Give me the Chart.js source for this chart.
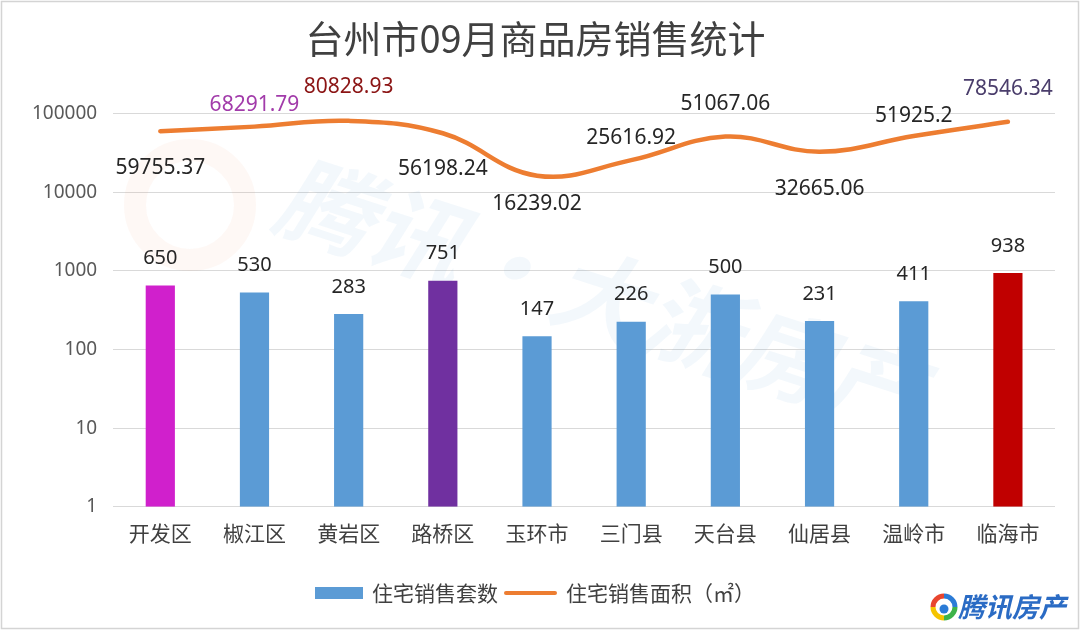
<!DOCTYPE html>
<html><head><meta charset="utf-8">
<script src="https://cdn.jsdelivr.net/npm/chart.js@4.4.0/dist/chart.umd.min.js"></script>
<style>html,body{margin:0;padding:0;background:#fff}#wrap{width:1080px;height:630px}</style>
</head><body><div id="wrap"><canvas id="c" width="1080" height="630"></canvas></div>
<script>
// ---- data ----
const titleText = '台州市09月商品房销售统计';
const categories = ['开发区','椒江区','黄岩区','路桥区','玉环市','三门县','天台县','仙居县','温岭市','临海市'];
const unitsSold = [650,530,283,751,147,226,500,231,411,938];
const areaSold = [59755.37,68291.79,80828.93,56198.24,16239.02,25616.92,51067.06,32665.06,51925.2,78546.34];
const yTickValues = [1,10,100,1000,10000,100000];
const seriesNames = ['住宅销售套数','住宅销售面积（㎡）'];

// ---- styles ----
const FONT = "'Noto Sans', 'Noto Sans CJK SC', sans-serif";
const CJK = "'Noto Sans CJK SC', 'Noto Sans', sans-serif";
const barColors = ['#D020CC','#5B9BD5','#5B9BD5','#7030A0','#5B9BD5','#5B9BD5','#5B9BD5','#5B9BD5','#5B9BD5','#C00000'];
const lineColor = '#ED7D31';
const areaLabelOffsets = [37,-22,-34,36,28,-22,-33,37,-20,-33];
const areaLabelColors = ['#262626','#A23BAA','#8B1414','#262626','#262626','#262626','#262626','#262626','#262626','#4A3D6B'];

const framePlugin = {
  id:'frame',
  beforeDraw(chart){
    const c = chart.ctx;
    c.save();
    c.fillStyle = '#fff';
    c.fillRect(0,0,chart.width,chart.height);
    c.strokeStyle = '#d4d4d4';
    c.lineWidth = 1.5;
    c.strokeRect(1.5,1.5,chart.width-3,chart.height-3);
    c.restore();
  },
  beforeDatasetsDraw(chart){
    const c = chart.ctx;
    c.save();
    c.translate(600,295);
    c.rotate(18*Math.PI/180);
    c.font = "italic bold 96px " + CJK;
    c.fillStyle = 'rgba(91,155,213,0.07)';
    c.textAlign = 'center'; c.textBaseline = 'middle';
    c.fillText('腾讯·大浙房产',0,0);
    c.restore();
    c.save();
    c.beginPath();
    c.arc(190,205,55,0,Math.PI*2);
    c.lineWidth = 22;
    c.strokeStyle = 'rgba(240,150,120,0.07)';
    c.stroke();
    c.restore();
  }
};

const labelPlugin = {
  id:'labels',
  afterDatasetsDraw(chart){
    const c = chart.ctx;
    c.save();
    c.textAlign = 'center';
    c.textBaseline = 'middle';
    c.font = '20px ' + FONT;
    const barMeta = chart.getDatasetMeta(0);
    barMeta.data.forEach((el,i)=>{
      c.fillStyle = '#262626';
      c.fillText(String(unitsSold[i]), el.x, el.y - 27);
    });
    const lineMeta = chart.getDatasetMeta(1);
    c.font = '21px ' + FONT;
    lineMeta.data.forEach((el,i)=>{
      c.fillStyle = areaLabelColors[i];
      c.fillText(String(areaSold[i]), el.x, el.y + areaLabelOffsets[i]);
    });
    c.restore();
  }
};

const legendPlugin = {
  id:'customLegend',
  afterDraw(chart){
    const c = chart.ctx;
    c.save();
    c.font = '21px ' + CJK;
    c.textBaseline = 'middle';
    c.textAlign = 'left';
    const w1 = c.measureText(seriesNames[0]).width;
    const w2 = c.measureText(seriesNames[1]).width;
    const total = 48 + 9 + w1 + 7 + 51 + 10 + w2;
    let x = 535 - total/2;
    const y = 593;
    c.fillStyle = '#5B9BD5';
    c.fillRect(x, y-6, 48, 12);
    x += 57;
    c.fillStyle = '#404040';
    c.fillText(seriesNames[0], x, y);
    x += w1 + 7;
    c.strokeStyle = lineColor; c.lineWidth = 4; c.lineCap = 'round';
    c.beginPath(); c.moveTo(x+1,y); c.lineTo(x+50,y); c.stroke();
    x += 61;
    c.fillText(seriesNames[1], x, y);
    const cx = 944, cy = 607, r = 11;
    const segs = ['#2B7BD6','#3DB34A','#F5C400','#E8452E'];
    segs.forEach((col,k)=>{
      c.beginPath();
      c.arc(cx,cy,r,(k*Math.PI/2)-Math.PI/2,((k+1)*Math.PI/2)-Math.PI/2);
      c.strokeStyle = col; c.lineWidth = 5; c.lineCap='butt'; c.stroke();
    });
    c.beginPath(); c.arc(cx,cy+2,4.5,0,Math.PI*2); c.fillStyle='#2B7BD6'; c.fill();
    c.font = 'italic bold 27px ' + CJK;
    c.fillStyle = '#2A6BC4';
    c.fillText('腾讯房产', 958, 607);
    c.restore();
  }
};

new Chart(document.getElementById('c'), {
  data:{
    labels: categories,
    datasets:[
      {type:'bar', label:seriesNames[0], data:unitsSold, backgroundColor:barColors,
       barPercentage:0.31, categoryPercentage:1, order:1},
      {type:'line', label:seriesNames[1], data:areaSold, borderColor:lineColor, borderWidth:4.5,
       tension:0.4, pointRadius:0, fill:false, order:0, borderCapStyle:'round'}
    ]
  },
  options:{
    responsive:false, animation:false, devicePixelRatio:1,
    layout:{padding:{left:16, right:25, top:0, bottom:70}},
    plugins:{
      legend:{display:false},
      tooltip:{enabled:false},
      title:{display:true, text:titleText, color:'#404040',
        font:{family:CJK, size:38, weight:'normal'}, padding:{top:16, bottom:52}}
    },
    scales:{
      x:{
        grid:{display:false, drawTicks:false},
        border:{display:false},
        ticks:{color:'#404040', font:{family:CJK, size:21}, padding:14}
      },
      y:{
        type:'logarithmic', min:1, max:100000,
        afterBuildTicks(axis){ axis.ticks = yTickValues.map(v=>({value:v})); },
        grid:{color:'#d9d9d9', lineWidth:1, drawTicks:false},
        border:{display:false},
        ticks:{color:'#595959', font:{family:FONT, size:19}, padding:16,
          callback:(v)=>String(v)}
      }
    }
  },
  plugins:[framePlugin, labelPlugin, legendPlugin]
});
</script></body></html>
